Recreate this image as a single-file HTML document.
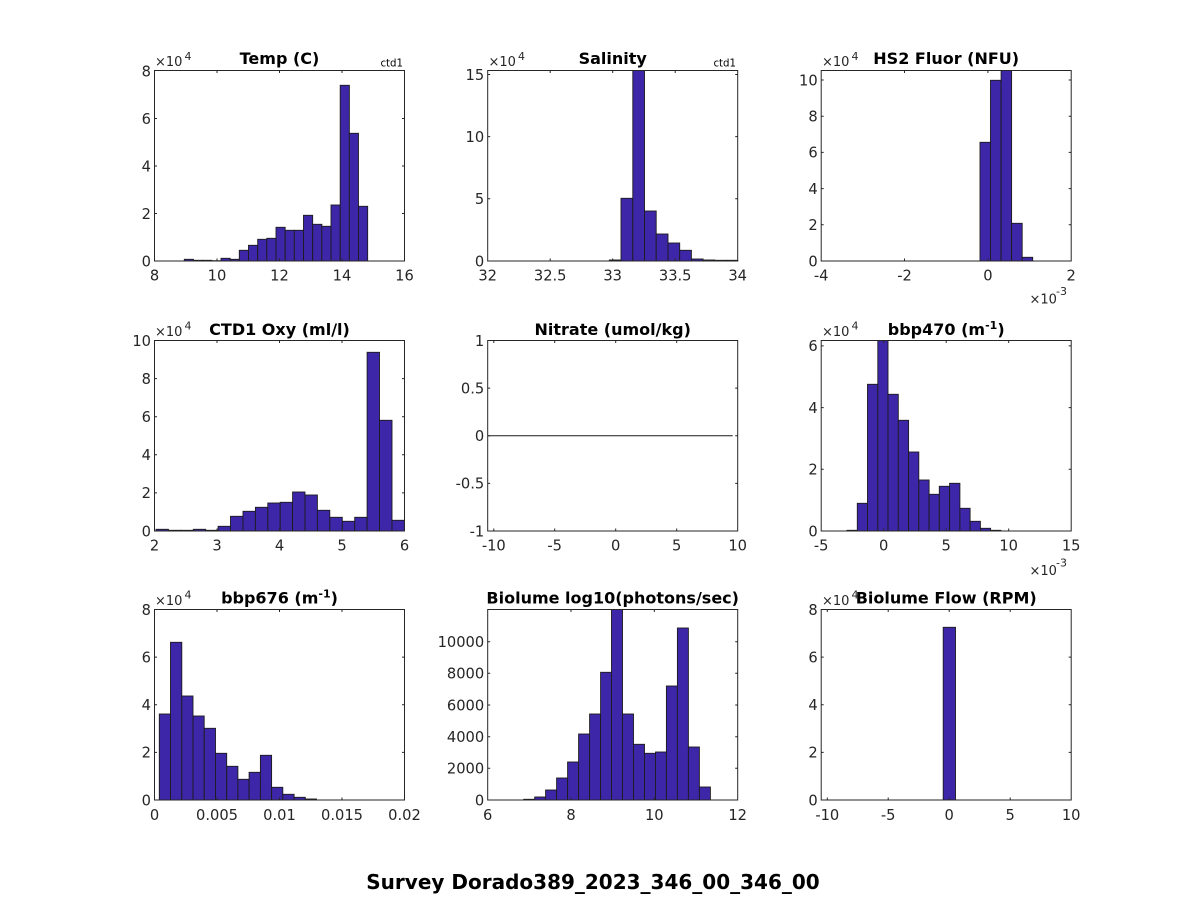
<!DOCTYPE html>
<html>
<head>
<meta charset="utf-8">
<style>
html,body{margin:0;padding:0;background:#fff;}
svg{display:block;}
text{font-family:"DejaVu Sans","Liberation Sans",sans-serif;}
.tk{font-size:14.67px;fill:#262626;}
.ti{font-size:16px;font-weight:bold;fill:#000;}
.ex{font-size:13px;fill:#262626;}
.exs{font-size:11px;fill:#262626;}
.bar{fill:#3e26a8;stroke:#1c1c1c;stroke-width:0.9;}
.ax{fill:none;stroke:#262626;stroke-width:1;}
.t{stroke:#262626;stroke-width:1;}
</style>
</head>
<body>
<svg width="1188" height="900" viewBox="0 0 1188 900" xmlns="http://www.w3.org/2000/svg">
<rect width="1188" height="900" fill="#fff"/>

<!-- ============ A1 Temp ============ -->
<g>
<rect class="bar" x="184.3" y="259.3" width="9.17" height="1.7"/>
<rect class="bar" x="193.5" y="260.3" width="9.17" height="0.7"/>
<rect class="bar" x="202.7" y="260.3" width="9.17" height="0.7"/>
<rect class="bar" x="211.8" y="260.7" width="9.17" height="0.3"/>
<rect class="bar" x="221.0" y="258.3" width="9.17" height="2.7"/>
<rect class="bar" x="230.2" y="259.3" width="9.17" height="1.7"/>
<rect class="bar" x="239.3" y="250.3" width="9.17" height="10.7"/>
<rect class="bar" x="248.5" y="245.3" width="9.17" height="15.7"/>
<rect class="bar" x="257.7" y="239.3" width="9.17" height="21.7"/>
<rect class="bar" x="266.8" y="238.3" width="9.17" height="22.7"/>
<rect class="bar" x="276.0" y="227.3" width="9.17" height="33.7"/>
<rect class="bar" x="285.2" y="230.3" width="9.17" height="30.7"/>
<rect class="bar" x="294.3" y="230.3" width="9.17" height="30.7"/>
<rect class="bar" x="303.5" y="215.3" width="9.17" height="45.7"/>
<rect class="bar" x="312.7" y="224.3" width="9.17" height="36.7"/>
<rect class="bar" x="321.8" y="226.3" width="9.17" height="34.7"/>
<rect class="bar" x="331.0" y="205.0" width="9.17" height="56"/>
<rect class="bar" x="340.2" y="85.3" width="9.17" height="175.7"/>
<rect class="bar" x="349.3" y="133.3" width="9.17" height="127.7"/>
<rect class="bar" x="358.5" y="206.3" width="9.17" height="54.7"/>
<rect class="ax" x="154.5" y="70.5" width="250" height="190.5"/>
<path class="t" d="M217,261v-2.5M279.5,261v-2.5M342,261v-2.5M217,70.5v2.5M279.5,70.5v2.5M342,70.5v2.5M154.5,213.5h2.5M154.5,166h2.5M154.5,118.5h2.5M404.5,213.5h-2.5M404.5,166h-2.5M404.5,118.5h-2.5"/>
<g class="tk" text-anchor="middle">
<text x="154.5" y="280.5">8</text><text x="217" y="280.5">10</text><text x="279.5" y="280.5">12</text><text x="342" y="280.5">14</text><text x="404.5" y="280.5">16</text>
</g>
<g class="tk" text-anchor="end">
<text x="151" y="266.3">0</text><text x="151" y="218.8">2</text><text x="151" y="171.3">4</text><text x="151" y="123.8">6</text><text x="151" y="76.3">8</text>
</g>
<text class="ex" x="155" y="66">×10</text><text class="exs" x="184.5" y="60">4</text>
<text class="ti" x="279.5" y="64" text-anchor="middle">Temp (C)</text>
<text x="403" y="66.5" font-size="10.2" fill="#000" text-anchor="end">ctd1</text>
</g>

<!-- ============ A2 Salinity ============ -->
<g>
<rect class="bar" x="609.3" y="260" width="11.7" height="1"/>
<rect class="bar" x="621.0" y="198.3" width="11.8" height="62.7"/>
<rect class="bar" x="632.8" y="70.5" width="11.7" height="190.5"/>
<rect class="bar" x="644.5" y="211" width="11.7" height="50"/>
<rect class="bar" x="656.2" y="234" width="11.8" height="27"/>
<rect class="bar" x="668.0" y="243" width="11.7" height="18"/>
<rect class="bar" x="679.7" y="250.3" width="11.7" height="10.7"/>
<rect class="bar" x="691.4" y="259" width="11.7" height="2"/>
<rect class="bar" x="703.1" y="260" width="11.8" height="1"/>
<rect class="bar" x="714.9" y="260.3" width="11.7" height="0.7"/>
<rect class="bar" x="726.6" y="260.3" width="11.1" height="0.7"/>
<rect class="ax" x="487.7" y="70.5" width="250" height="190.5"/>
<path class="t" d="M550.2,261v-2.5M612.7,261v-2.5M675.2,261v-2.5M550.2,70.5v2.5M612.7,70.5v2.5M675.2,70.5v2.5M487.7,198.8h2.5M487.7,136.6h2.5M487.7,74.5h2.5M737.7,198.8h-2.5M737.7,136.6h-2.5M737.7,74.5h-2.5"/>
<g class="tk" text-anchor="middle">
<text x="487.7" y="280.5">32</text><text x="550.2" y="280.5">32.5</text><text x="612.7" y="280.5">33</text><text x="675.2" y="280.5">33.5</text><text x="737.7" y="280.5">34</text>
</g>
<g class="tk" text-anchor="end">
<text x="484.2" y="266.3">0</text><text x="484.2" y="204.1">5</text><text x="484.2" y="141.9">10</text><text x="484.2" y="79.8">15</text>
</g>
<text class="ex" x="488.5" y="66">×10</text><text class="exs" x="518" y="60">4</text>
<text class="ti" x="612.7" y="64" text-anchor="middle">Salinity</text>
<text x="736" y="66.5" font-size="10.2" fill="#000" text-anchor="end">ctd1</text>
</g>

<!-- ============ A3 HS2 Fluor ============ -->
<g>
<rect class="bar" x="980" y="142.3" width="10.5" height="118.7"/>
<rect class="bar" x="990.5" y="80.3" width="10.6" height="180.7"/>
<rect class="bar" x="1001.1" y="70.5" width="10.5" height="190.5"/>
<rect class="bar" x="1011.6" y="223.3" width="10.6" height="37.7"/>
<rect class="bar" x="1022.2" y="257.3" width="10.5" height="3.7"/>
<rect class="ax" x="821.2" y="70.5" width="250" height="190.5"/>
<path class="t" d="M904.5,261v-2.5M987.9,261v-2.5M904.5,70.5v2.5M987.9,70.5v2.5M821.2,224.8h2.5M821.2,188.6h2.5M821.2,152.4h2.5M821.2,116.2h2.5M821.2,80h2.5M1071.2,224.8h-2.5M1071.2,188.6h-2.5M1071.2,152.4h-2.5M1071.2,116.2h-2.5M1071.2,80h-2.5"/>
<g class="tk" text-anchor="middle">
<text x="821.2" y="280.5">-4</text><text x="904.5" y="280.5">-2</text><text x="987.9" y="280.5">0</text><text x="1071.2" y="280.5">2</text>
</g>
<g class="tk" text-anchor="end">
<text x="817.7" y="266.3">0</text><text x="817.7" y="230.1">2</text><text x="817.7" y="193.9">4</text><text x="817.7" y="157.7">6</text><text x="817.7" y="121.5">8</text><text x="817.7" y="85.3">10</text>
</g>
<text class="ex" x="822" y="66">×10</text><text class="exs" x="851.5" y="60">4</text>
<text class="ti" x="946.2" y="64" text-anchor="middle">HS2 Fluor (NFU)</text>
<text class="ex" x="1029.5" y="303.5">×10</text><text class="exs" x="1056" y="295">-3</text>
</g>

<!-- ============ A4 CTD1 Oxy ============ -->
<g>
<rect class="bar" x="156.0" y="529.3" width="12.4" height="1.7"/>
<rect class="bar" x="168.4" y="530.3" width="12.4" height="0.7"/>
<rect class="bar" x="180.8" y="530.3" width="12.5" height="0.7"/>
<rect class="bar" x="193.3" y="529.3" width="12.4" height="1.7"/>
<rect class="bar" x="205.7" y="530.3" width="12.4" height="0.7"/>
<rect class="bar" x="218.1" y="526.3" width="12.4" height="4.7"/>
<rect class="bar" x="230.5" y="516.3" width="12.5" height="14.7"/>
<rect class="bar" x="243.0" y="511.3" width="12.4" height="19.7"/>
<rect class="bar" x="255.4" y="507.3" width="12.4" height="23.7"/>
<rect class="bar" x="267.8" y="503" width="12.4" height="28"/>
<rect class="bar" x="280.2" y="502.3" width="12.4" height="28.7"/>
<rect class="bar" x="292.6" y="492" width="12.4" height="39"/>
<rect class="bar" x="305.0" y="495" width="12.4" height="36"/>
<rect class="bar" x="317.4" y="510.3" width="12.4" height="20.7"/>
<rect class="bar" x="329.8" y="517.3" width="12.5" height="13.7"/>
<rect class="bar" x="342.3" y="521.3" width="12.4" height="9.7"/>
<rect class="bar" x="354.7" y="517.3" width="12.4" height="13.7"/>
<rect class="bar" x="367.1" y="352.3" width="12.4" height="178.7"/>
<rect class="bar" x="379.5" y="420.3" width="12.5" height="110.7"/>
<rect class="bar" x="392.0" y="520.3" width="12.4" height="10.7"/>
<rect class="ax" x="154.5" y="340.5" width="250" height="190.5"/>
<path class="t" d="M217,531v-2.5M279.5,531v-2.5M342,531v-2.5M217,340.5v2.5M279.5,340.5v2.5M342,340.5v2.5M154.5,492.9h2.5M154.5,454.8h2.5M154.5,416.7h2.5M154.5,378.6h2.5M404.5,492.9h-2.5M404.5,454.8h-2.5M404.5,416.7h-2.5M404.5,378.6h-2.5"/>
<g class="tk" text-anchor="middle">
<text x="154.5" y="550.5">2</text><text x="217" y="550.5">3</text><text x="279.5" y="550.5">4</text><text x="342" y="550.5">5</text><text x="404.5" y="550.5">6</text>
</g>
<g class="tk" text-anchor="end">
<text x="151" y="536.3">0</text><text x="151" y="498.2">2</text><text x="151" y="460.1">4</text><text x="151" y="422">6</text><text x="151" y="383.9">8</text><text x="151" y="345.8">10</text>
</g>
<text class="ex" x="155" y="336">×10</text><text class="exs" x="184.5" y="329.5">4</text>
<text class="ti" x="279.5" y="335" text-anchor="middle">CTD1 Oxy (ml/l)</text>
</g>

<!-- ============ A5 Nitrate ============ -->
<g>
<line x1="487.7" y1="435.75" x2="732.7" y2="435.75" stroke="#1c1c1c" stroke-width="1"/>
<rect class="ax" x="487.7" y="340.5" width="250" height="190.5"/>
<path class="t" d="M493.8,531v-2.5M554.7,531v-2.5M615.7,531v-2.5M676.7,531v-2.5M493.8,340.5v2.5M554.7,340.5v2.5M615.7,340.5v2.5M676.7,340.5v2.5M487.7,483.4h2.5M487.7,435.75h2.5M487.7,388.1h2.5M737.7,483.4h-2.5M737.7,435.75h-2.5M737.7,388.1h-2.5"/>
<g class="tk" text-anchor="middle">
<text x="493.8" y="550.5">-10</text><text x="554.7" y="550.5">-5</text><text x="615.7" y="550.5">0</text><text x="676.7" y="550.5">5</text><text x="737.7" y="550.5">10</text>
</g>
<g class="tk" text-anchor="end">
<text x="484.2" y="536.3">-1</text><text x="484.2" y="488.7">-0.5</text><text x="484.2" y="441.05">0</text><text x="484.2" y="393.4">0.5</text><text x="484.2" y="345.8">1</text>
</g>
<text class="ti" x="612.7" y="335" text-anchor="middle">Nitrate (umol/kg)</text>
</g>

<!-- ============ A6 bbp470 ============ -->
<g>
<rect class="bar" x="847.0" y="530.3" width="10.3" height="0.7"/>
<rect class="bar" x="857.3" y="503.3" width="10.2" height="27.7"/>
<rect class="bar" x="867.5" y="384.3" width="10.3" height="146.7"/>
<rect class="bar" x="877.8" y="340.5" width="10.2" height="190.5"/>
<rect class="bar" x="888.0" y="394.3" width="10.3" height="136.7"/>
<rect class="bar" x="898.3" y="420.3" width="10.3" height="110.7"/>
<rect class="bar" x="908.6" y="452" width="10.2" height="79"/>
<rect class="bar" x="918.8" y="480" width="10.3" height="51"/>
<rect class="bar" x="929.1" y="494.3" width="10.2" height="36.7"/>
<rect class="bar" x="939.3" y="486.3" width="10.3" height="44.7"/>
<rect class="bar" x="949.6" y="483.3" width="10.3" height="47.7"/>
<rect class="bar" x="959.9" y="508.3" width="10.2" height="22.7"/>
<rect class="bar" x="970.1" y="521.3" width="10.3" height="9.7"/>
<rect class="bar" x="980.4" y="528.3" width="10.2" height="2.7"/>
<rect class="bar" x="990.6" y="530.3" width="10.3" height="0.7"/>
<rect class="ax" x="821.2" y="340.5" width="250" height="190.5"/>
<path class="t" d="M883.7,531v-2.5M946.2,531v-2.5M1008.7,531v-2.5M883.7,340.5v2.5M946.2,340.5v2.5M1008.7,340.5v2.5M821.2,469.3h2.5M821.2,407.6h2.5M821.2,345.9h2.5M1071.2,469.3h-2.5M1071.2,407.6h-2.5M1071.2,345.9h-2.5"/>
<g class="tk" text-anchor="middle">
<text x="821.2" y="550.5">-5</text><text x="883.7" y="550.5">0</text><text x="946.2" y="550.5">5</text><text x="1008.7" y="550.5">10</text><text x="1071.2" y="550.5">15</text>
</g>
<g class="tk" text-anchor="end">
<text x="817.7" y="536.3">0</text><text x="817.7" y="474.6">2</text><text x="817.7" y="412.9">4</text><text x="817.7" y="351.2">6</text>
</g>
<text class="ex" x="822" y="336">×10</text><text class="exs" x="851.5" y="329.5">4</text>
<text class="ti" x="946.2" y="335" text-anchor="middle">bbp470 (m<tspan font-size="11" dy="-6">-1</tspan><tspan dy="6">)</tspan></text>
<text class="ex" x="1029.5" y="575">×10</text><text class="exs" x="1056" y="566.5">-3</text>
</g>

<!-- ============ A7 bbp676 ============ -->
<g>
<rect class="bar" x="159.3" y="714" width="11.2" height="86"/>
<rect class="bar" x="170.5" y="642.3" width="11.3" height="157.7"/>
<rect class="bar" x="181.8" y="696" width="11.2" height="104"/>
<rect class="bar" x="193.0" y="716" width="11.2" height="84"/>
<rect class="bar" x="204.2" y="728.3" width="11.3" height="71.7"/>
<rect class="bar" x="215.5" y="753.3" width="11.2" height="46.7"/>
<rect class="bar" x="226.7" y="766.3" width="11.2" height="33.7"/>
<rect class="bar" x="237.9" y="779.3" width="11.2" height="20.7"/>
<rect class="bar" x="249.1" y="772.3" width="11.3" height="27.7"/>
<rect class="bar" x="260.4" y="755.3" width="11.2" height="44.7"/>
<rect class="bar" x="271.6" y="787.3" width="11.2" height="12.7"/>
<rect class="bar" x="282.8" y="794.3" width="11.3" height="5.7"/>
<rect class="bar" x="294.1" y="797.3" width="11.2" height="2.7"/>
<rect class="bar" x="305.3" y="799" width="11.2" height="1"/>
<rect class="ax" x="154.5" y="609.5" width="250" height="190.5"/>
<path class="t" d="M217,800v-2.5M279.5,800v-2.5M342,800v-2.5M217,609.5v2.5M279.5,609.5v2.5M342,609.5v2.5M154.5,752.4h2.5M154.5,704.75h2.5M154.5,657.1h2.5M404.5,752.4h-2.5M404.5,704.75h-2.5M404.5,657.1h-2.5"/>
<g class="tk" text-anchor="middle">
<text x="154.5" y="820">0</text><text x="217" y="820">0.005</text><text x="279.5" y="820">0.01</text><text x="342" y="820">0.015</text><text x="404.5" y="820">0.02</text>
</g>
<g class="tk" text-anchor="end">
<text x="151" y="805.3">0</text><text x="151" y="757.7">2</text><text x="151" y="710">4</text><text x="151" y="662.4">6</text><text x="151" y="614.8">8</text>
</g>
<text class="ex" x="155" y="605">×10</text><text class="exs" x="184.5" y="598.5">4</text>
<text class="ti" x="279.5" y="603.5" text-anchor="middle">bbp676 (m<tspan font-size="11" dy="-6">-1</tspan><tspan dy="6">)</tspan></text>
</g>

<!-- ============ A8 Biolume ============ -->
<g>
<rect class="bar" x="523.7" y="799.3" width="11" height="0.7"/>
<rect class="bar" x="534.7" y="797" width="10.9" height="3"/>
<rect class="bar" x="545.6" y="790" width="11" height="10"/>
<rect class="bar" x="556.6" y="778" width="11" height="22"/>
<rect class="bar" x="567.6" y="762" width="11" height="38"/>
<rect class="bar" x="578.6" y="734" width="11" height="66"/>
<rect class="bar" x="589.6" y="714" width="11" height="86"/>
<rect class="bar" x="600.6" y="672.3" width="10.9" height="127.7"/>
<rect class="bar" x="611.5" y="609.5" width="11" height="190.5"/>
<rect class="bar" x="622.5" y="714" width="11" height="86"/>
<rect class="bar" x="633.5" y="744.3" width="11" height="55.7"/>
<rect class="bar" x="644.5" y="753.3" width="11" height="46.7"/>
<rect class="bar" x="655.5" y="752" width="10.9" height="48"/>
<rect class="bar" x="666.4" y="686" width="11" height="114"/>
<rect class="bar" x="677.4" y="628" width="11" height="172"/>
<rect class="bar" x="688.4" y="747" width="11" height="53"/>
<rect class="bar" x="699.4" y="787" width="11" height="13"/>
<rect class="ax" x="487.7" y="609.5" width="250" height="190.5"/>
<path class="t" d="M571,800v-2.5M654.3,800v-2.5M571,609.5v2.5M654.3,609.5v2.5M487.7,768.3h2.5M487.7,736.7h2.5M487.7,705h2.5M487.7,673.3h2.5M487.7,641.7h2.5M737.7,768.3h-2.5M737.7,736.7h-2.5M737.7,705h-2.5M737.7,673.3h-2.5M737.7,641.7h-2.5"/>
<g class="tk" text-anchor="middle">
<text x="487.7" y="820">6</text><text x="571" y="820">8</text><text x="654.3" y="820">10</text><text x="737.7" y="820">12</text>
</g>
<g class="tk" text-anchor="end">
<text x="484.2" y="805.3">0</text><text x="484.2" y="773.6">2000</text><text x="484.2" y="742">4000</text><text x="484.2" y="710.3">6000</text><text x="484.2" y="678.6">8000</text><text x="484.2" y="647">10000</text>
</g>
<text class="ti" x="612.7" y="603.5" text-anchor="middle">Biolume log10(photons/sec)</text>
</g>

<!-- ============ A9 Biolume Flow ============ -->
<g>
<rect class="bar" x="943.2" y="627.3" width="12.3" height="172.7"/>
<rect class="ax" x="821.2" y="609.5" width="250" height="190.5"/>
<path class="t" d="M827.3,800v-2.5M888.2,800v-2.5M949.2,800v-2.5M1010.2,800v-2.5M827.3,609.5v2.5M888.2,609.5v2.5M949.2,609.5v2.5M1010.2,609.5v2.5M821.2,752.4h2.5M821.2,704.75h2.5M821.2,657.1h2.5M1071.2,752.4h-2.5M1071.2,704.75h-2.5M1071.2,657.1h-2.5"/>
<g class="tk" text-anchor="middle">
<text x="827.3" y="820">-10</text><text x="888.2" y="820">-5</text><text x="949.2" y="820">0</text><text x="1010.2" y="820">5</text><text x="1071.2" y="820">10</text>
</g>
<g class="tk" text-anchor="end">
<text x="817.7" y="805.3">0</text><text x="817.7" y="757.7">2</text><text x="817.7" y="710">4</text><text x="817.7" y="662.4">6</text><text x="817.7" y="614.8">8</text>
</g>
<text class="ex" x="822" y="605">×10</text><text class="exs" x="851.5" y="598.5">4</text>
<text class="ti" x="946.2" y="603.5" text-anchor="middle">Biolume Flow (RPM)</text>
</g>

<!-- Super title -->
<text x="593" y="889" font-size="20" font-weight="bold" fill="#000" text-anchor="middle">Survey Dorado389_2023_346_00_346_00</text>
</svg>
</body>
</html>
